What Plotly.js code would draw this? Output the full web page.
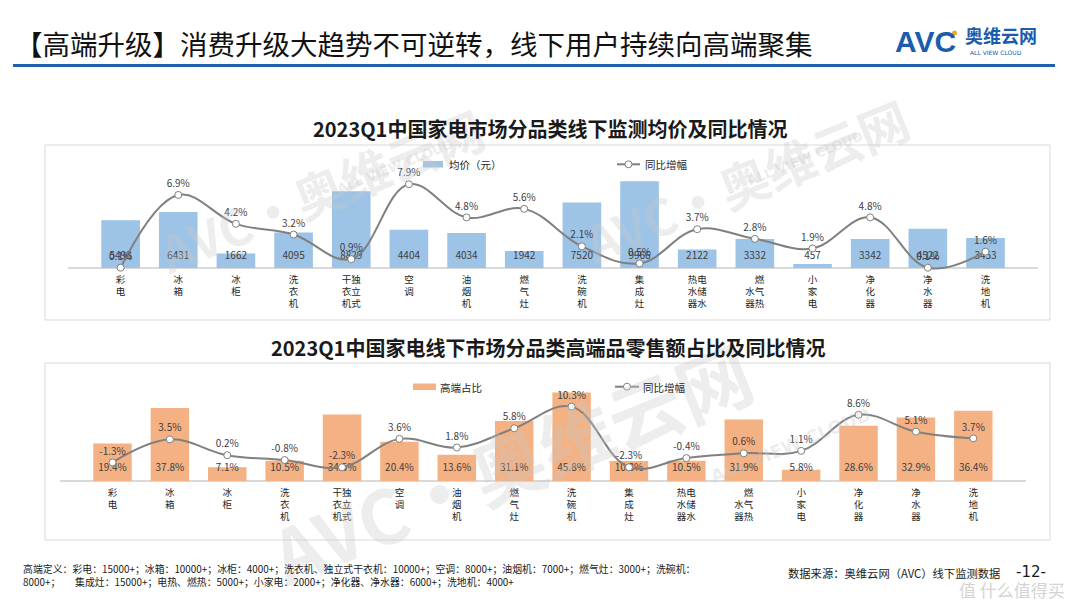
<!DOCTYPE html>
<html>
<head>
<meta charset="utf-8">
<script src="https://cdn.plot.ly/plotly-3.0.1.min.js"></script>
<style>
  html, body { margin: 0; padding: 0; background: #ffffff; }
  #chart { width: 1080px; height: 608px; }
</style>
</head>
<body>
<div id="chart"></div>
<script>
// Product categories (order along both charts)
const categories = ['彩电', '冰箱', '冰柜', '洗衣机', '独立式干衣机', '空调', '油烟机', '燃气灶',
  '洗碗机', '集成灶', '电储水热水器', '燃气热水器', '小家电', '净化器', '净水器', '洗地机'];

// Vertically stacked tick labels (a transparent glyph keeps the two columns aligned)
const tickLabels = ['彩<br>电', '冰<br>箱', '冰<br>柜', '洗<br>衣<br>机', '干独<br>衣立<br>机式', '空<br>调',
  '油<br>烟<br>机', '燃<br>气<br>灶', '洗<br>碗<br>机', '集<br>成<br>灶', '热电<br>水储<br>器水',
  '<span style="color:rgba(0,0,0,0)">水</span>燃<br>水气<br>器热',
  '小<br>家<br>电', '净<br>化<br>器', '净<br>水<br>器', '洗<br>地<br>机'];

// Chart 1: offline average price (yuan) and YoY change (%)
const avgPrice = [5493, 6431, 1662, 4095, 8829, 4404, 4034, 1942, 7520, 9966, 2122, 3332, 457, 3342, 4522, 3453];
const priceYoY = [0.1, 6.9, 4.2, 3.2, 0.9, 7.9, 4.8, 5.6, 2.1, 0.5, 3.7, 2.8, 1.9, 4.8, 0.1, 1.6];

// Chart 2: high-end share of retail sales (%) and YoY change (pct)
const highEndShare = [19.4, 37.8, 7.1, 10.5, 34.5, 20.4, 13.6, 31.1, 45.8, 10.3, 10.5, 31.9, 5.8, 28.6, 32.9, 36.4];
const shareYoY = [-1.3, 3.5, 0.2, -0.8, -2.3, 3.6, 1.8, 5.8, 10.3, -2.3, -0.4, 0.6, 1.1, 8.6, 5.1, 3.7];

// Page geometry helpers (figure has no margins, so paper == page pixels)
const W = 1080, H = 608;
const px = x => x / W;
const py = y => 1 - y / H;

const FONT = '"Noto Sans CJK SC", "Noto Sans", sans-serif';
const BLUE_BAR = '#9dc3e6';
const ORANGE_BAR = '#f4b183';
const LINE_GREY = '#808080';
const LABEL = '#404040';

const pct = v => v.toFixed(1) + '%';

// Fixed heights (in bar-axis units) for the in-bar value labels
const PRICE_LABEL_Y = 1300;
const SHARE_LABEL_Y = 6.4;

const traces = [
  {
    type: 'bar', x: categories, y: avgPrice, xaxis: 'x', yaxis: 'y',
    marker: { color: BLUE_BAR }, hoverinfo: 'skip'
  },
  {
    type: 'scatter', mode: 'text', x: categories, y: categories.map(() => PRICE_LABEL_Y),
    text: avgPrice.map(v => String(v)), xaxis: 'x', yaxis: 'y',
    textfont: { family: FONT, size: 10, color: LABEL }, hoverinfo: 'skip', cliponaxis: false
  },
  {
    type: 'scatter', mode: 'lines+markers+text', x: categories, y: priceYoY, xaxis: 'x', yaxis: 'y2',
    line: { color: LINE_GREY, width: 2, shape: 'spline', smoothing: 1.1 },
    marker: { size: 7, color: '#ffffff', line: { color: LINE_GREY, width: 1 } },
    text: priceYoY.map(pct), textposition: 'top center',
    textfont: { family: FONT, size: 10, color: LABEL }, cliponaxis: false, hoverinfo: 'skip'
  },
  {
    type: 'bar', x: categories, y: highEndShare, xaxis: 'x2', yaxis: 'y3',
    marker: { color: ORANGE_BAR }, hoverinfo: 'skip'
  },
  {
    type: 'scatter', mode: 'text', x: categories, y: categories.map(() => SHARE_LABEL_Y),
    text: highEndShare.map(pct), xaxis: 'x2', yaxis: 'y3',
    textfont: { family: FONT, size: 10, color: LABEL }, hoverinfo: 'skip', cliponaxis: false
  },
  {
    type: 'scatter', mode: 'lines+markers+text', x: categories, y: shareYoY, xaxis: 'x2', yaxis: 'y4',
    line: { color: LINE_GREY, width: 2, shape: 'spline', smoothing: 1.1 },
    marker: { size: 7, color: '#ffffff', line: { color: LINE_GREY, width: 1 } },
    text: shareYoY.map(pct), textposition: 'top center',
    textfont: { family: FONT, size: 10, color: LABEL }, cliponaxis: false, hoverinfo: 'skip'
  }
];

const catAxis = (domain, anchor) => ({
  domain: domain, anchor: anchor, type: 'category',
  tickmode: 'array', tickvals: categories, ticktext: tickLabels,
  tickfont: { family: FONT, size: 9.5, color: '#262626' },
  showgrid: false, showline: false, ticks: '', zeroline: false, fixedrange: true
});
const valAxis = (domain, anchor, range, zero) => ({
  domain: domain, anchor: anchor, range: range,
  showgrid: false, showticklabels: false, ticks: '', showline: false,
  zeroline: zero, zerolinecolor: '#d9d9d9', zerolinewidth: 1.5, fixedrange: true
});

// Axis pixel layout: top chart baseline at 268px, bottom chart baseline at 481px
const topY = [py(272), py(150)];
const botY = [py(485), py(380)];

const layout = {
  width: W, height: H,
  margin: { l: 0, r: 0, t: 0, b: 0, pad: 0 },
  paper_bgcolor: '#ffffff', plot_bgcolor: 'rgba(0,0,0,0)',
  showlegend: false, bargap: 0.33,
  font: { family: FONT, color: '#262626' },
  xaxis: catAxis([px(67.7), px(1038.4)], 'y'),
  yaxis: valAxis(topY, 'x', [-460, 13570], true),
  yaxis2: Object.assign(valAxis(topY, 'x', [-0.30, 11.10], false), { overlaying: 'y' }),
  xaxis2: catAxis([px(59.8), px(1026)], 'y3'),
  yaxis3: valAxis(botY, 'x2', [-2.07, 52.33], true),
  yaxis4: Object.assign(valAxis(botY, 'x2', [-5.99, 15.84], false), { overlaying: 'y3' }),
  shapes: [
    // chart panels
    { type: 'rect', xref: 'paper', yref: 'paper', x0: px(45), x1: px(1050), y0: py(145), y1: py(320),
      line: { color: '#d9d9d9', width: 1 }, fillcolor: 'rgba(0,0,0,0)', layer: 'below' },
    { type: 'rect', xref: 'paper', yref: 'paper', x0: px(45), x1: px(1050), y0: py(363), y1: py(540),
      line: { color: '#d9d9d9', width: 1 }, fillcolor: 'rgba(0,0,0,0)', layer: 'below' },
    // header rule
    { type: 'line', xref: 'paper', yref: 'paper', x0: px(13), x1: px(1055), y0: py(65.5), y1: py(65.5),
      line: { color: '#1f5fae', width: 3 } },
    // logo dot
    { type: 'circle', xref: 'paper', yref: 'paper', x0: px(952), x1: px(957), y0: py(30.5), y1: py(35.5),
      fillcolor: '#f5a623', line: { width: 0 } },
    // legend keys, chart 1
    { type: 'rect', xref: 'paper', yref: 'paper', x0: px(423), x1: px(443), y0: py(161), y1: py(167.5),
      fillcolor: BLUE_BAR, line: { width: 0 } },
    { type: 'line', xref: 'paper', yref: 'paper', x0: px(617), x1: px(640), y0: py(164.3), y1: py(164.3),
      line: { color: LINE_GREY, width: 2 } },
    { type: 'circle', xref: 'paper', yref: 'paper', x0: px(625), x1: px(632), y0: py(160.8), y1: py(167.8),
      fillcolor: '#ffffff', line: { color: LINE_GREY, width: 1 } },
    // legend keys, chart 2
    { type: 'rect', xref: 'paper', yref: 'paper', x0: px(413), x1: px(436), y0: py(383.5), y1: py(390),
      fillcolor: ORANGE_BAR, line: { width: 0 } },
    { type: 'line', xref: 'paper', yref: 'paper', x0: px(615), x1: px(639), y0: py(386.7), y1: py(386.7),
      line: { color: LINE_GREY, width: 2 } },
    { type: 'circle', xref: 'paper', yref: 'paper', x0: px(623.5), x1: px(630.5), y0: py(383.2), y1: py(390.2),
      fillcolor: '#ffffff', line: { color: LINE_GREY, width: 1 } }
  ],
  annotations: []
};

const note = (x, y, text, opts) => Object.assign({
  xref: 'paper', yref: 'paper', x: px(x), y: py(y), text: text, showarrow: false,
  xanchor: 'left', yanchor: 'middle', font: { family: FONT, size: 11, color: '#262626' }
}, opts || {});

// faint brand watermarks (drawn first so the page texts sit above them)
const WM = 'rgba(200,200,200,0.33)';
[
  { x: 320, y: 190, s: 50, t: 'AVC·奥维云网' },
  { x: 745, y: 180, s: 50, t: 'AVC·奥维云网' },
  { x: 510, y: 462, s: 74, t: 'AVC·奥维云网' }
].forEach(w => {
  layout.annotations.push(note(w.x, w.y, '<b>' + w.t + '</b>',
    { xanchor: 'center', textangle: -22, font: { family: FONT, size: w.s, color: WM } }));
});
layout.annotations.push(
  note(395, 166, '<b>ALL VIEW CLOUD</b>', { xanchor: 'center', textangle: -22,
    font: { family: '"DejaVu Sans", sans-serif', size: 13, color: WM } }),
  note(805, 158, '<b>ALL VIEW CLOUD</b>', { xanchor: 'center', textangle: -22,
    font: { family: '"DejaVu Sans", sans-serif', size: 13, color: WM } }),
  note(790, 445, '<b>ALL VIEW CLOUD</b>', { xanchor: 'center', textangle: -22,
    font: { family: '"DejaVu Sans", sans-serif', size: 18, color: WM } }),
  note(1012, 589, '值 什么值得买', { xanchor: 'center', font: { family: FONT, size: 17, color: '#d4d4d4' } })
);

layout.annotations.push(
  // page heading
  note(13, 43, '【高端升级】消费升级大趋势不可逆转，线下用户持续向高端聚集',
    { font: { family: FONT, size: 27.5, color: '#111111' } }),
  // logo
  note(893, 41, '<b>AVC</b>', { font: { family: '"Liberation Sans", Arial, sans-serif', size: 30, color: '#1a5cad' } }),
  note(963, 35, '<b>奥维云网</b>', { font: { family: FONT, size: 18, color: '#1a5cad' } }),
  note(968, 52.5, 'ALL VIEW CLOUD', { font: { family: '"DejaVu Sans", sans-serif', size: 6, color: '#1a5cad' } }),
  // chart titles
  note(550, 128, '<b>2023Q1中国家电市场分品类线下监测均价及同比情况</b>',
    { xanchor: 'center', font: { family: FONT, size: 20, color: '#1a1a1a' } }),
  note(548, 347, '<b>2023Q1中国家电线下市场分品类高端品零售额占比及同比情况</b>',
    { xanchor: 'center', font: { family: FONT, size: 20, color: '#1a1a1a' } }),
  // legend labels
  note(447, 164, '均价（元）', { font: { family: FONT, size: 10.5, color: '#262626' } }),
  note(643, 164, '同比增幅', { font: { family: FONT, size: 10.5, color: '#262626' } }),
  note(438, 387, '高端占比', { font: { family: FONT, size: 10.5, color: '#262626' } }),
  note(641, 387, '同比增幅', { font: { family: FONT, size: 10.5, color: '#262626' } }),
  // footnotes
  note(21, 569, '高端定义：彩电：15000+；冰箱：10000+；冰柜：4000+；洗衣机、独立式干衣机：10000+；空调：8000+；油烟机：7000+；燃气灶：3000+；洗碗机：',
    { font: { family: FONT, size: 9.9, color: '#1a1a1a' } }),
  note(21, 582, '8000+；　　集成灶：15000+；电热、燃热：5000+；小家电：2000+；净化器、净水器：6000+；洗地机：4000+',
    { font: { family: FONT, size: 9.9, color: '#1a1a1a' } }),
  note(786, 573, '数据来源：奥维云网（AVC）线下监测数据', { font: { family: FONT, size: 11.3, color: '#1a1a1a' } }),
  note(1014, 572, '-12-', { font: { family: '"DejaVu Sans", sans-serif', size: 15, color: '#1a1a1a' } })
);

Plotly.newPlot('chart', traces, layout, { staticPlot: true, displayModeBar: false });
</script>
</body>
</html>
